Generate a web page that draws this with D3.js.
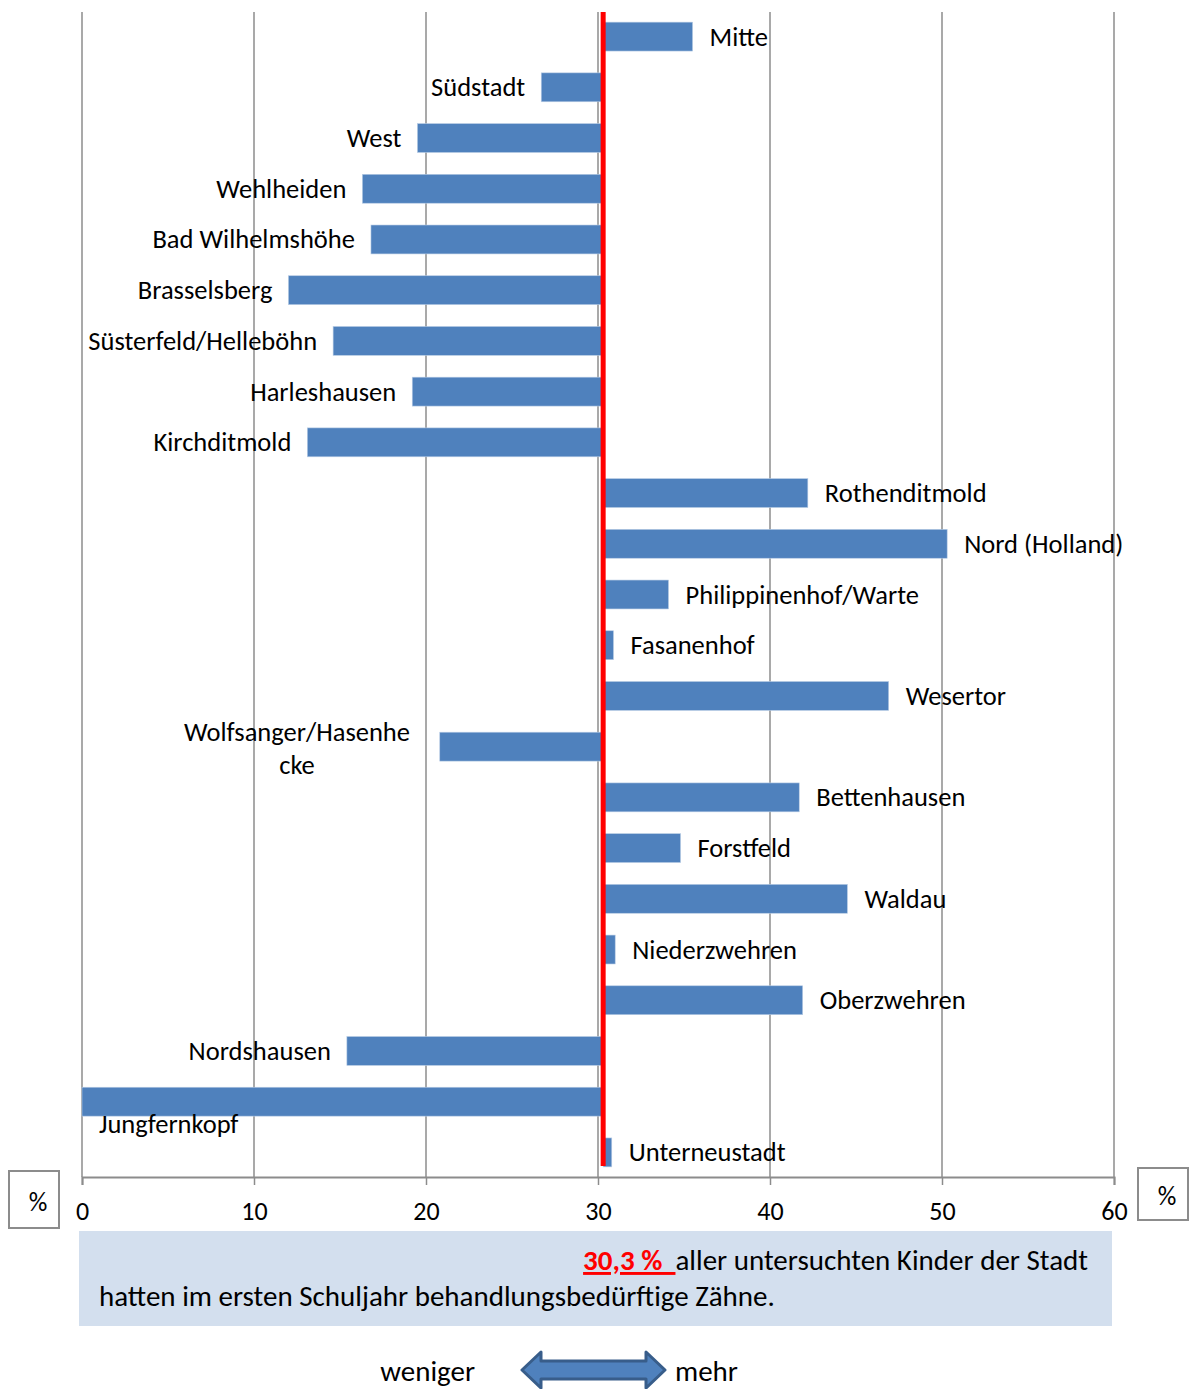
<!DOCTYPE html>
<html>
<head>
<meta charset="utf-8">
<title>Behandlungsbedarf Stadtteile</title>
<script src="https://cdnjs.cloudflare.com/ajax/libs/d3/7.8.5/d3.min.js"></script>
<style>
body { margin: 0; background: #fff; }
text { font-family: Carlito, Calibri, Lato, sans-serif; fill: #000; }
</style>
</head>
<body>
<div id="chart"></div>
<script>
// Stadtteile und Anteil (%) der Kinder mit behandlungsbedürftigen Zähnen
var districts = ["Mitte", "Südstadt", "West", "Wehlheiden", "Bad Wilhelmshöhe", "Brasselsberg",
  "Süsterfeld/Helleböhn", "Harleshausen", "Kirchditmold", "Rothenditmold", "Nord (Holland)",
  "Philippinenhof/Warte", "Fasanenhof", "Wesertor", "Wolfsanger/Hasenhecke", "Bettenhausen",
  "Forstfeld", "Waldau", "Niederzwehren", "Oberzwehren", "Nordshausen", "Jungfernkopf", "Unterneustadt"];
var values = [35.5, 26.7, 19.5, 16.3, 16.8, 12.0, 14.6, 19.2, 13.1, 42.2, 50.3, 34.1, 30.9, 46.9,
  20.8, 41.7, 34.8, 44.5, 31.0, 41.9, 15.4, 0, 30.8];
var cityMean = 30.3;
var xTicks = [0, 10, 20, 30, 40, 50, 60];

var width = 1194, height = 1389;
var svg = d3.select("#chart").append("svg")
  .attr("width", width)
  .attr("height", height);

var x = d3.scaleLinear().domain([0, 60]).range([82, 1114]);
var y = d3.scaleBand().domain(districts).range([12, 1177]).paddingInner(0.43).paddingOuter(0.2);

// gridlines
svg.append("g").selectAll("line")
  .data(xTicks)
  .enter().append("line")
  .attr("x1", d => x(d)).attr("x2", d => x(d))
  .attr("y1", 12).attr("y2", 1177)
  .style("stroke", "#8c8c8c")
  .style("stroke-width", 1.5);

// axis
var axis = svg.append("g")
  .attr("transform", "translate(0,1177)")
  .call(d3.axisBottom(x).tickValues(xTicks).tickSize(8).tickPadding(17));
axis.select(".domain").style("stroke", "#8c8c8c").style("stroke-width", 2);
axis.selectAll(".tick line").style("stroke", "#8c8c8c").style("stroke-width", 1.5);
axis.selectAll(".tick text").style("font-size", "26px").style("fill", "#000")
  .style("font-family", "Carlito, Calibri, Lato, sans-serif");

// bars
svg.append("g").selectAll("rect")
  .data(values)
  .enter().append("rect")
  .attr("x", d => x(Math.min(d, cityMean)))
  .attr("y", (d, i) => y(districts[i]))
  .attr("width", d => Math.abs(x(d) - x(cityMean)))
  .attr("height", y.bandwidth())
  .style("fill", "#4f81bd")
  .style("stroke", "#b9cde5")
  .style("stroke-width", 0.6);

// labels
var labels = svg.append("g").style("font-size", "26.5px");
values.forEach(function(v, i) {
  var name = districts[i];
  var cy = y(name) + y.bandwidth() / 2;
  if (name === "Wolfsanger/Hasenhecke") {
    var t = labels.append("text").attr("text-anchor", "middle");
    t.append("tspan").attr("x", 297).attr("y", cy - 6).text("Wolfsanger/Hasenhe");
    t.append("tspan").attr("x", 297).attr("y", cy + 27).text("cke");
  } else if (name === "Jungfernkopf") {
    labels.append("text").attr("x", 99).attr("y", cy + 31).text(name);
  } else if (v >= cityMean) {
    labels.append("text").attr("x", x(v) + 17).attr("y", cy + 9).text(name);
  } else {
    labels.append("text").attr("x", x(v) - 16).attr("y", cy + 9)
      .attr("text-anchor", "end").text(name);
  }
});

// Stadtdurchschnitt
svg.append("line")
  .attr("x1", x(cityMean)).attr("x2", x(cityMean))
  .attr("y1", 12).attr("y2", 1166)
  .style("stroke", "#ff0000")
  .style("stroke-width", 5);

// % boxes
[[9, 1171, 50, 57], [1138, 1168, 50, 52]].forEach(function(b) {
  svg.append("rect").attr("x", b[0]).attr("y", b[1]).attr("width", b[2]).attr("height", b[3])
    .style("fill", "#fff").style("stroke", "#8c8c8c").style("stroke-width", 2);
  svg.append("text").attr("x", b[0] + b[2] / 2 + 4).attr("y", b[1] + b[3] / 2 + 11)
    .attr("text-anchor", "middle").style("font-size", "26px").text("%");
});

// info box
svg.append("rect").attr("x", 79).attr("y", 1231).attr("width", 1033).attr("height", 95)
  .style("fill", "#d3dfee");
var info = svg.append("text").attr("x", 1088).attr("y", 1270).attr("text-anchor", "end")
  .style("font-size", "29px");
info.append("tspan").style("fill", "#ff0000").style("font-weight", "bold")
  .style("text-decoration", "underline").text("30,3 %\u00a0\u00a0");
info.append("tspan").text("aller untersuchten Kinder der Stadt");
svg.append("text").attr("x", 99).attr("y", 1306).style("font-size", "29px")
  .text("hatten im ersten Schuljahr behandlungsbedürftige Zähne.");

// weniger <-> mehr
svg.append("text").attr("x", 475).attr("y", 1381).attr("text-anchor", "end")
  .style("font-size", "29px").text("weniger");
svg.append("text").attr("x", 675).attr("y", 1381).style("font-size", "29px").text("mehr");
var arrow = [[522, 1370], [541, 1352], [541, 1361], [646, 1361], [646, 1352], [665, 1370],
  [646, 1388], [646, 1379], [541, 1379], [541, 1388]];
svg.append("path")
  .attr("d", d3.line()(arrow) + "Z")
  .style("fill", "#4f81bd")
  .style("stroke", "#385d8a")
  .style("stroke-width", 3)
  .style("stroke-linejoin", "round");
</script>
</body>
</html>
